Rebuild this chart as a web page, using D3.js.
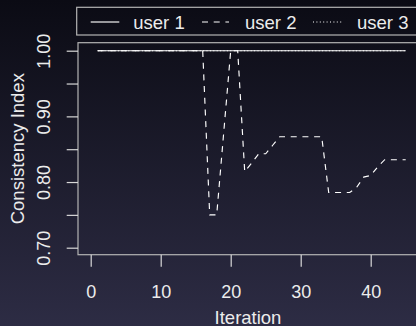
<!DOCTYPE html>
<html>
<head>
<meta charset="utf-8">
<script src="https://cdn.jsdelivr.net/npm/d3@7"></script>
<style>
  html, body { margin: 0; padding: 0; background: #0c0c16; }
  svg { display: block; }
  text { font-family: "Liberation Sans", Arial, Helvetica, sans-serif; fill: #ececec; }
</style>
</head>
<body>
<script>
// ---- data ----
const iterations = [1,2,3,4,5,6,7,8,9,10,11,12,13,14,15,16,17,18,19,20,21,22,23,24,25,26,27,28,29,30,31,32,33,34,35,36,37,38,39,40,41,42,43,44,45];
const user1 = [1,1,1,1,1,1,1,1,1,1,1,1,1,1,1,1,1,1,1,1,1,1,1,1,1,1,1,1,1,1,1,1,1,1,1,1,1,1,1,1,1,1,1,1,1];
const user2 = [1,1,1,1,1,1,1,1,1,1,1,1,1,1,1,1,0.75,0.75,0.875,1,1,0.816,0.829,0.843,0.843,0.856,0.869,0.869,0.869,0.869,0.869,0.869,0.869,0.784,0.784,0.784,0.784,0.792,0.8075,0.81,0.823,0.834,0.834,0.834,0.834];
const user3 = [1,1,1,1,1,1,1,1,1,1,1,1,1,1,1,1,1,1,1,1,1,1,1,1,1,1,1,1,1,1,1,1,1,1,1,1,1,1,1,1,1,1,1,1,1];
const seriesNames = ["user 1", "user 2", "user 3"];
const xTicks = [0, 10, 20, 30, 40];
const yTicks = [0.70, 0.75, 0.80, 0.85, 0.90, 0.95, 1.00];
const yLabelled = [0.70, 0.80, 0.90, 1.00];
const xTitle = "Iteration";
const yTitle = "Consistency Index";

// ---- layout ----
const W = 416, H = 326;
const box = { left: 78, top: 42.7, right: 418, bottom: 254.7 };
const dashes = ["none", "6,5.7", "1,2.4"];

const svg = d3.select("body").append("svg").attr("width", W).attr("height", H);
const defs = svg.append("defs");
const grad = defs.append("linearGradient").attr("id", "bg").attr("x1", 0).attr("y1", 0).attr("x2", 0).attr("y2", 1);
grad.append("stop").attr("offset", "0%").attr("stop-color", "#0b0b14");
grad.append("stop").attr("offset", "100%").attr("stop-color", "#2d2c44");
svg.append("rect").attr("width", W).attr("height", H).attr("fill", "url(#bg)");

const x = d3.scaleLinear().domain([0, 40]).range([90.7, 370.7]);
const y = d3.scaleLinear().domain([0.70, 1.00]).range([247.7, 50.7]);

// plot box
svg.append("rect")
  .attr("x", box.left).attr("y", box.top)
  .attr("width", box.right - box.left).attr("height", box.bottom - box.top)
  .attr("fill", "none").attr("stroke", "#b4b4b4").attr("stroke-width", 1.2);

// x axis
const xAxis = svg.append("g").attr("transform", `translate(0,${box.bottom})`)
  .call(d3.axisBottom(x).tickValues(xTicks).tickSize(12).tickPadding(6).tickFormat(d3.format("d")));
xAxis.select(".domain").remove();
xAxis.selectAll(".tick line").attr("stroke", "#d8d8d8").attr("stroke-width", 1.2);
xAxis.selectAll(".tick text").attr("font-size", 18).attr("fill", "#ececec")
  .attr("y", 0).attr("dy", 0).attr("transform", "translate(0,43.3)");

// y axis
const yAxis = svg.append("g").attr("transform", `translate(${box.left},0)`)
  .call(d3.axisLeft(y).tickValues(yTicks).tickSize(11.3)
    .tickFormat(d => yLabelled.some(v => Math.abs(v - d) < 1e-9) ? d3.format(".2f")(d) : ""));
yAxis.select(".domain").remove();
yAxis.selectAll(".tick line").attr("stroke", "#d8d8d8").attr("stroke-width", 1.2);
yAxis.selectAll(".tick text").attr("font-size", 18).attr("fill", "#ececec")
  .attr("x", 0).attr("y", -28).attr("dy", 0)
  .attr("text-anchor", "middle").attr("transform", "rotate(-90)");

// titles
svg.append("text").attr("x", 248).attr("y", 323.5).attr("text-anchor", "middle")
  .attr("font-size", 18.5).text(xTitle);
svg.append("text").attr("transform", `translate(24,148.7) rotate(-90)`).attr("text-anchor", "middle")
  .attr("font-size", 18.5).text(yTitle);

// lines
const allSeries = [user1, user2, user3];
const line = d3.line().x((d, i) => x(iterations[i])).y(d => y(d));
allSeries.forEach((vals, k) => {
  svg.append("path").datum(vals)
    .attr("d", line)
    .attr("fill", "none").attr("stroke", "#ffffff").attr("stroke-width", 1.15)
    .attr("stroke-dasharray", dashes[k]);
});

// legend
svg.append("rect").attr("x", 76.7).attr("y", 7.3).attr("width", 360).attr("height", 27.7)
  .attr("fill", "none").attr("stroke", "#b4b4b4").attr("stroke-width", 1.2);
const legX = [90.7, 202, 313];
const legLen = [28.6, 27, 30];
const legTextX = [133.3, 245, 357];
seriesNames.forEach((name, k) => {
  svg.append("line").attr("x1", legX[k]).attr("x2", legX[k] + legLen[k]).attr("y1", 22).attr("y2", 22)
    .attr("stroke", "#ffffff").attr("stroke-width", 1.15).attr("stroke-dasharray", dashes[k]);
  svg.append("text").attr("x", legTextX[k]).attr("y", 29).attr("font-size", 18.5).text(name);
});
</script>
</body>
</html>
